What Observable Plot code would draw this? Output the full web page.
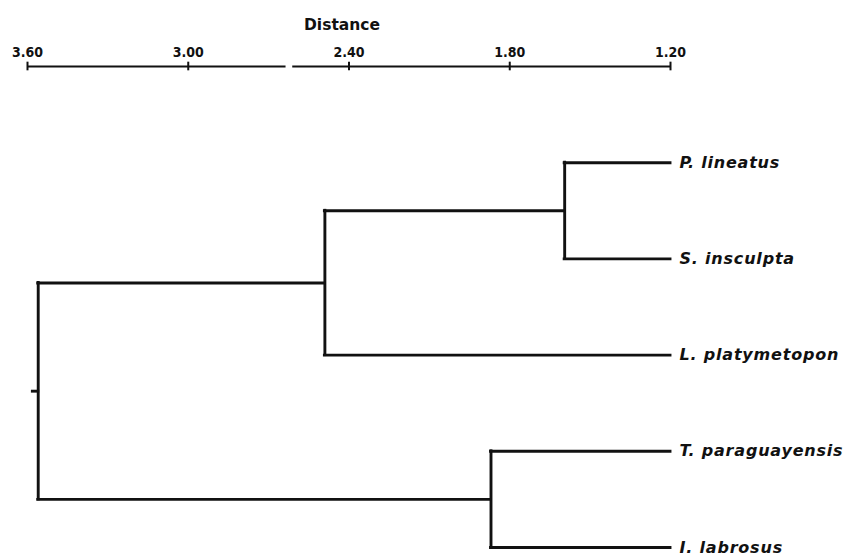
<!DOCTYPE html>
<html>
<head>
<meta charset="utf-8">
<script src="https://cdn.jsdelivr.net/npm/d3@7"></script>
<script src="https://cdn.jsdelivr.net/npm/@observablehq/plot@0.6"></script>
<style>
  body { margin: 0; background: #fff; }
  #chart svg { display: block; }
</style>
</head>
<body>
<div id="chart"></div>
<script>
// ---- data ----
const axisTitle = "Distance";
const tickValues = [3.60, 3.00, 2.40, 1.80, 1.20];
const leaves = ["P. lineatus", "S. insculpta", "L. platymetopon", "T. paraguayensis", "I. labrosus"];
const leafDistance = 1.20;
const nodeNames = ["PS", "PSL", "TI", "root"];
const nodeDistance = [1.595, 2.49, 1.87, 3.56];
const nodeChildren = [
  ["P. lineatus", "S. insculpta"],
  ["PS", "L. platymetopon"],
  ["T. paraguayensis", "I. labrosus"],
  ["PSL", "TI"]
];
const rootStubStart = 3.58;
const axisBreak = [2.635, 2.61];

// ---- build tree geometry in data space ----
const pos = new Map();
leaves.forEach((name, i) => pos.set(name, {d: leafDistance, y: i}));
nodeNames.forEach((name, i) => {
  const ch = nodeChildren[i].map(c => pos.get(c));
  pos.set(name, {d: nodeDistance[i], y: d3.mean(ch, c => c.y)});
});
const verticals = [];
const horizontals = [];
nodeNames.forEach((name, i) => {
  const p = pos.get(name);
  const ch = nodeChildren[i].map(c => pos.get(c));
  verticals.push({x: p.d, y1: d3.min(ch, c => c.y), y2: d3.max(ch, c => c.y)});
  ch.forEach(c => horizontals.push({x1: p.d, x2: c.d, y: c.y}));
});
const root = pos.get("root");
horizontals.push({x1: rootStubStart, x2: root.d, y: root.y});

const leafRows = leaves.map((name, i) => ({name, x: leafDistance, y: i}));
const axisSegments = [
  {x1: tickValues[0], x2: axisBreak[0]},
  {x1: axisBreak[1], x2: tickValues[tickValues.length - 1]}
];

const stroke = "#111";
const sw = 2.9;

const chart = Plot.plot({
  width: 846,
  height: 557,
  marginLeft: 27,
  marginRight: 176,
  marginTop: 66,
  marginBottom: 10,
  x: {domain: [3.60, 1.20], axis: null},
  y: {domain: [-1, 4], axis: null, reverse: true},
  style: {background: "#fff", color: "#111"},
  marks: [
    // distance axis
    Plot.ruleY(axisSegments, {x1: "x1", x2: "x2", y: -1, stroke, strokeWidth: 1.8}),
    Plot.ruleX(tickValues, {x: d => d, y1: -1.045, y2: -0.955, stroke, strokeWidth: 2}),
    Plot.text(tickValues, {
      x: d => d, y: -1, dy: -14, text: d => d.toFixed(2),
      fontSize: 14, fontWeight: "bold", fontFamily: "DejaVu Sans Condensed", fill: stroke
    }),
    Plot.text([axisTitle], {
      x: 2.40, y: -1, dy: -41, dx: -7, text: d => d,
      fontSize: 15.5, fontWeight: "bold", fontFamily: "DejaVu Sans", fill: stroke
    }),
    // tree
    Plot.ruleX(verticals, {x: "x", y1: "y1", y2: "y2", stroke, strokeWidth: sw, strokeLinecap: "square"}),
    Plot.ruleY(horizontals, {x1: "x1", x2: "x2", y: "y", stroke, strokeWidth: sw, strokeLinecap: "square"}),
    // leaf labels
    Plot.text(leafRows, {
      x: "x", y: "y", text: "name", dx: 9, textAnchor: "start",
      fontSize: 16, fontStyle: "italic", fontWeight: "bold",
      fontFamily: "DejaVu Sans", fill: stroke
    })
  ]
});
chart.querySelectorAll("text").forEach(t => {
  if (leaves.includes(t.textContent)) t.setAttribute("letter-spacing", "0.8");
});
document.getElementById("chart").appendChild(chart);
</script>
</body>
</html>
